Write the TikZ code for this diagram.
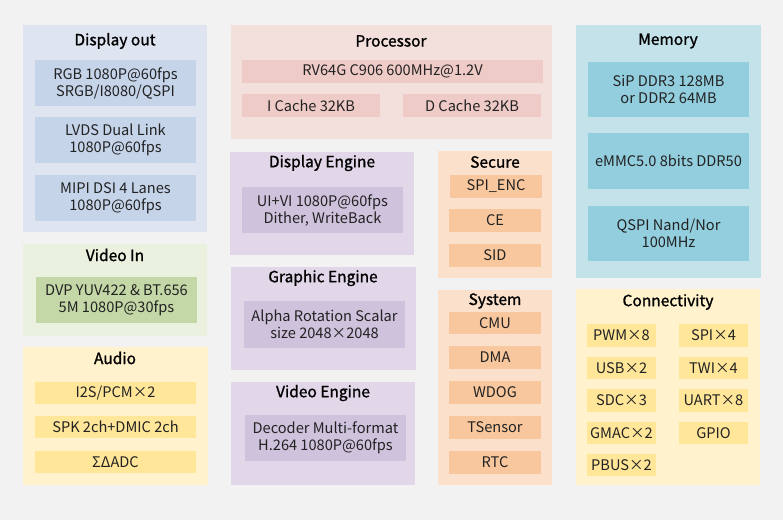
\documentclass[tikz,border=0pt]{standalone}
\usepackage{fontspec}
\setmainfont{Noto Sans CJK SC}
\newfontfamily\ttlfont[FakeBold=1.2]{Noto Sans CJK SC}
\definecolor{bg}{HTML}{F2F2F2}
\definecolor{doO}{HTML}{DEE5F1}\definecolor{doI}{HTML}{C6D4E9}
\definecolor{viO}{HTML}{EBF1DF}\definecolor{viI}{HTML}{C4D7A6}
\definecolor{auO}{HTML}{FFF2CC}\definecolor{auI}{HTML}{FFE699}
\definecolor{prO}{HTML}{F3E0DC}\definecolor{prI}{HTML}{EFCBC7}
\definecolor{enO}{HTML}{E1D7E8}\definecolor{enI}{HTML}{CEC2DC}
\definecolor{syO}{HTML}{FBE1CC}\definecolor{syI}{HTML}{F9C79D}
\definecolor{meO}{HTML}{C3E2E9}\definecolor{meI}{HTML}{93CEDE}
\definecolor{txt}{HTML}{222222}
\newcommand\bx[7]{\node[#1, minimum width={(#5-#3)*1pt}, minimum height={(#6-#4)*1pt}] (#2) at ({(#3+#5)/2},{(#4+#6)/2}) {#7};}
\begin{document}
\begin{tikzpicture}[x=1pt,y=-1pt,
  grp/.style={inner sep=0pt, outer sep=0pt, draw=none},
  itm/.style={inner sep=0pt, outer sep=0pt, draw=none, align=center, text=txt, font=\fontsize{14.6}{17}\selectfont},
  ttl/.style={inner sep=0pt, font=\ttlfont\fontsize{15.5}{18}\selectfont, text=black}]
\fill[bg] (0,0) rectangle (783,520);
\useasboundingbox (0,0) rectangle (783,520);
% Display out
\bx{grp,fill=doO}{dout}{23}{25}{207}{232}{}
\node[ttl] (doutT) at (115,41) {Display out};
\bx{itm,fill=doI}{do1}{35}{60}{196}{106}{RGB 1080P@60fps\\SRGB/I8080/QSPI}
\bx{itm,fill=doI}{do2}{35}{117}{196}{163}{LVDS Dual Link\\1080P@60fps}
\bx{itm,fill=doI}{do3}{35}{175}{196}{221}{MIPI DSI 4 Lanes\\1080P@60fps}
% Video In
\bx{grp,fill=viO}{vin}{23}{244}{207}{336}{}
\node[ttl] (vinT) at (115,255) {Video In};
\bx{itm,fill=viI}{vi1}{36}{277}{197}{323}{DVP YUV422 \& BT.656\\5M 1080P@30fps}
% Audio
\bx{grp,fill=auO}{aud}{23}{347}{208}{485}{}
\node[ttl] (audT) at (115,358) {Audio};
\bx{itm,fill=auI}{au1}{35}{382}{196}{404}{I2S/PCM×2}
\bx{itm,fill=auI}{au2}{35}{416}{196}{438}{SPK 2ch+DMIC 2ch}
\bx{itm,fill=auI}{au3}{35}{451}{196}{473}{ΣΔADC}
% Processor
\bx{grp,fill=prO}{proc}{231}{25}{552}{139}{}
\node[ttl] (procT) at (391,41) {Processor};
\bx{itm,fill=prI}{pr1}{242}{60}{543}{83}{RV64G C906 600MHz@1.2V}
\bx{itm,fill=prI}{pr2}{242}{94}{380}{117}{I Cache 32KB}
\bx{itm,fill=prI}{pr3}{403}{94}{541}{117}{D Cache 32KB}
% Display Engine
\bx{grp,fill=enO}{de}{230}{152}{414}{255}{}
\node[ttl] (deT) at (322,163) {Display Engine};
\bx{itm,fill=enI}{de1}{242}{187}{403}{233}{UI+VI 1080P@60fps\\Dither, WriteBack}
% Graphic Engine
\bx{grp,fill=enO}{ge}{231}{267}{416}{370}{}
\node[ttl] (geT) at (323,278) {Graphic Engine};
\bx{itm,fill=enI}{ge1}{244}{301}{405}{348}{Alpha Rotation Scalar\\size 2048×2048}
% Video Engine
\bx{grp,fill=enO}{ve}{231}{382}{415}{485}{}
\node[ttl] (veT) at (323,393) {Video Engine};
\bx{itm,fill=enI}{ve1}{245}{415}{406}{461}{Decoder Multi-format\\H.264 1080P@60fps}
% Secure
\bx{grp,fill=syO}{sec}{438}{151}{552}{278}{}
\node[ttl] (secT) at (495,162) {Secure};
\bx{itm,fill=syI}{se1}{450}{175}{542}{198}{SPI\_ENC}
\bx{itm,fill=syI}{se2}{449}{209}{541}{232}{CE}
\bx{itm,fill=syI}{se3}{449}{244}{541}{267}{SID}
% System
\bx{grp,fill=syO}{sys}{438}{290}{552}{485}{}
\node[ttl] (sysT) at (495,301) {System};
\bx{itm,fill=syI}{sy1}{449}{312}{541}{334}{CMU}
\bx{itm,fill=syI}{sy2}{449}{346}{541}{369}{DMA}
\bx{itm,fill=syI}{sy3}{449}{381}{541}{404}{WDOG}
\bx{itm,fill=syI}{sy4}{449}{416}{541}{439}{TSensor}
\bx{itm,fill=syI}{sy5}{449}{451}{541}{474}{RTC}
% Memory
\bx{grp,fill=meO}{mem}{576}{25}{761}{278}{}
\node[ttl] (memT) at (668,41) {Memory};
\bx{itm,fill=meI}{me1}{588}{62}{749}{117}{SiP DDR3 128MB\\or DDR2 64MB}
\bx{itm,fill=meI}{me2}{588}{133}{749}{189}{eMMC5.0 8bits DDR50}
\bx{itm,fill=meI}{me3}{588}{206}{749}{261}{QSPI Nand/Nor\\100MHz}
% Connectivity
\bx{grp,fill=auO}{con}{576}{289}{760}{485}{}
\node[ttl] (conT) at (668,302) {Connectivity};
\bx{itm,fill=auI}{c1}{587}{324}{656}{347}{PWM×8}
\bx{itm,fill=auI}{c2}{587}{357}{656}{379}{USB×2}
\bx{itm,fill=auI}{c3}{587}{389}{656}{412}{SDC×3}
\bx{itm,fill=auI}{c4}{587}{422}{656}{444}{GMAC×2}
\bx{itm,fill=auI}{c5}{587}{454}{656}{476}{PBUS×2}
\bx{itm,fill=auI}{c6}{679}{324}{748}{347}{SPI×4}
\bx{itm,fill=auI}{c7}{679}{357}{748}{379}{TWI×4}
\bx{itm,fill=auI}{c8}{679}{389}{748}{412}{UART×8}
\bx{itm,fill=auI}{c9}{679}{422}{748}{444}{GPIO}
\end{tikzpicture}
\end{document}
